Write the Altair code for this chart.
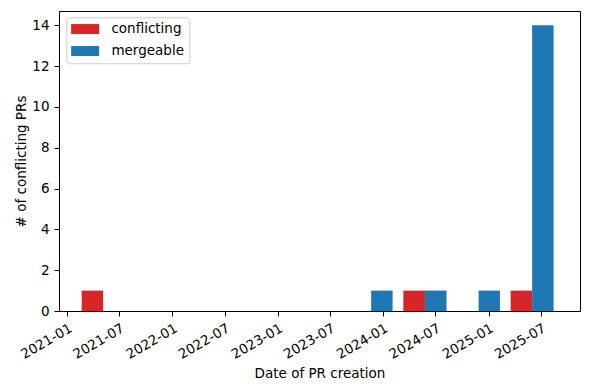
import altair as alt
import pandas as pd

# ---- data ----
bin_edges = ["2021-02-02", "2021-08-07", "2022-02-09", "2022-08-14", "2023-02-16",
             "2023-08-20", "2024-02-22", "2024-08-27", "2025-02-28", "2025-09-02"]
conflicting = [1, 0, 0, 0, 0, 0, 1, 0, 1]
mergeable = [0, 0, 0, 0, 0, 1, 1, 1, 14]
series_names = ["conflicting", "mergeable"]
series_colors = ["#d62728", "#1f77b4"]
tick_dates = ["2021-01-01", "2021-07-01", "2022-01-01", "2022-07-01", "2023-01-01",
              "2023-07-01", "2024-01-01", "2024-07-01", "2025-01-01", "2025-07-01"]
x_range = ["2020-12-04", "2025-11-14"]
y_ticks = [0, 2, 4, 6, 8, 10, 12, 14]


def ms(s):
    return int(pd.Timestamp(s, tz="UTC").value // 10**6)


rows = []
edges_ms = [ms(e) for e in bin_edges]
for k, counts in enumerate([conflicting, mergeable]):
    offset = 0.1 + 0.4 * k
    for i, c in enumerate(counts):
        if c == 0:
            continue
        lo, hi = edges_ms[i], edges_ms[i + 1]
        w = hi - lo
        rows.append({"start": lo + offset * w, "end": lo + (offset + 0.4) * w,
                     "count": c, "series": series_names[k]})
df = pd.DataFrame(rows)

FONT = "DejaVu Sans"
FS = 13.5

chart = alt.Chart(df).mark_rect(cornerRadius=0).encode(
    x=alt.X("start:T",
            scale=alt.Scale(type="utc", domain=[ms(x_range[0]), ms(x_range[1])], nice=False),
            axis=alt.Axis(values=[ms(t) for t in tick_dates], format="%Y-%m",
                          labelAngle=-30, labelAlign="right", labelBaseline="top",
                          title="Date of PR creation", grid=False,
                          tickSize=5, labelPadding=5, titlePadding=6,
                          labelOverlap=False, labelFlush=False, labelBound=False)),
    x2="end:T",
    y=alt.Y("count:Q",
            scale=alt.Scale(domain=[0, 14.7], nice=False, zero=True),
            axis=alt.Axis(values=y_ticks, title="# of conflicting PRs", grid=False,
                          tickSize=5, labelPadding=5, titlePadding=3)),
    y2=alt.datum(0),
    color=alt.Color("series:N",
                    scale=alt.Scale(domain=series_names, range=series_colors),
                    legend=alt.Legend(title=None, orient="none", legendX=7.4, legendY=6.3,
                                      fillColor="white", strokeColor="#cccccc",
                                      cornerRadius=3, padding=5,
                                      symbolType="M-2.8,-1H2.8V1H-2.8Z",
                                      symbolSize=100, symbolStrokeWidth=0,
                                      symbolOpacity=1, symbolOffset=7,
                                      labelOffset=19.5,
                                      labelFontSize=FS, labelFont=FONT,
                                      labelColor="black", rowPadding=7)),
).properties(
    width=521, height=300,
    background="white",
    autosize=alt.AutoSizeParams(type="none"),
    padding={"left": 51, "top": 3, "right": 1, "bottom": 73},
).configure_view(
    stroke="black", strokeWidth=1
).configure_axis(
    labelFont=FONT, titleFont=FONT, labelFontSize=FS, titleFontSize=FS,
    labelColor="black", titleColor="black", titleFontWeight="normal",
    domainColor="black", tickColor="black", domainWidth=1, tickWidth=1,
)

chart.save("out.html", embed_options={"renderer": "svg", "actions": False})
